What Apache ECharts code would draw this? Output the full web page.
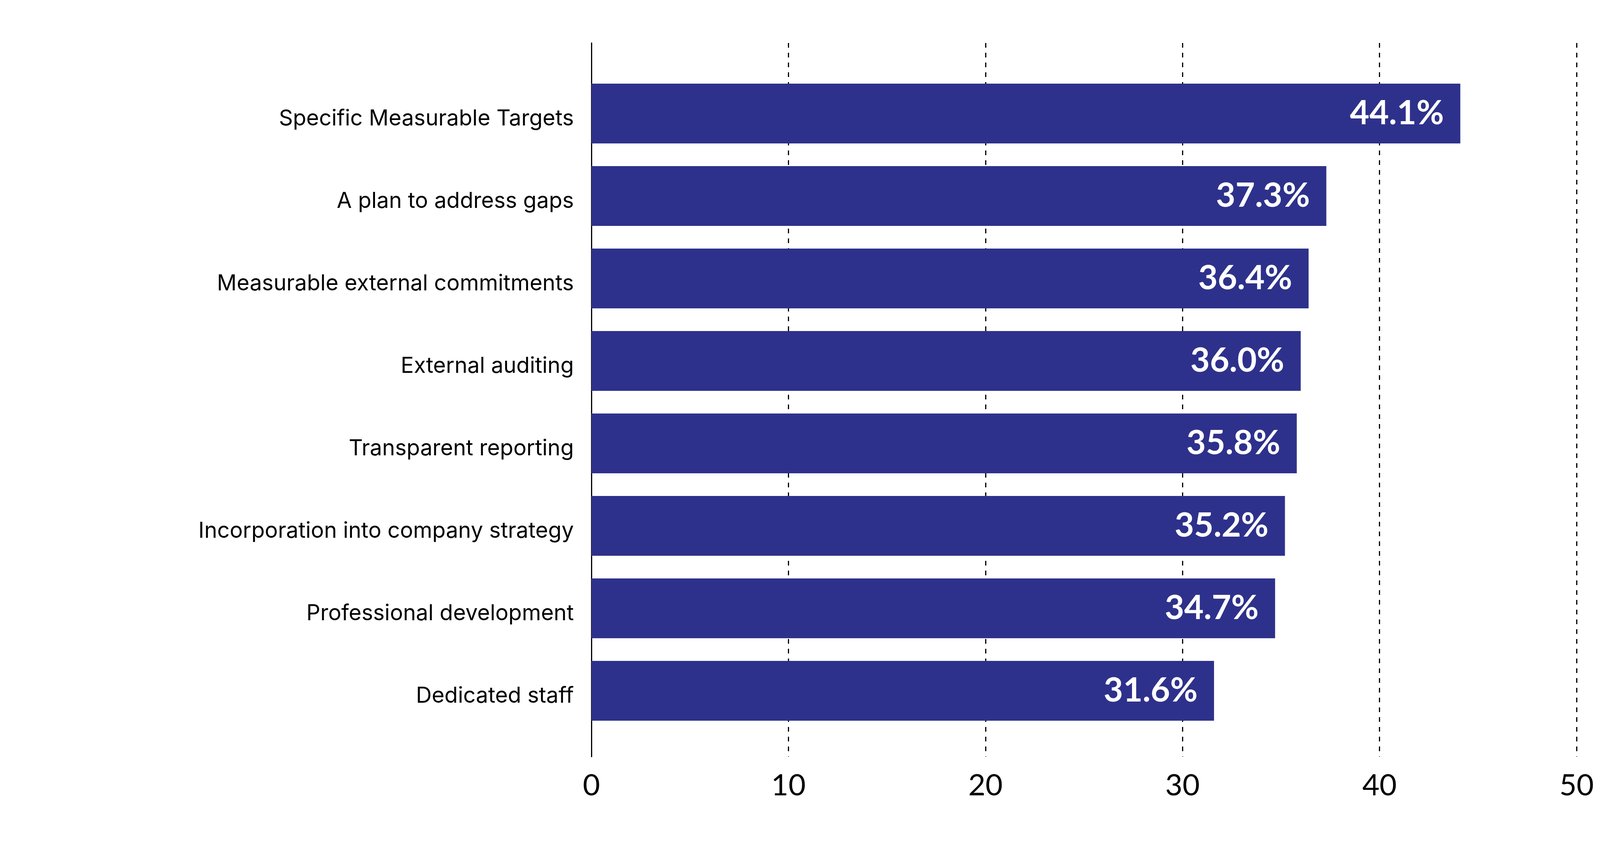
<!DOCTYPE html>
<html>
<head>
<meta charset="utf-8">
<script src="https://cdn.jsdelivr.net/npm/echarts@6/dist/echarts.min.js"></script>
<style>
html,body{margin:0;padding:0;background:#fff;}
#c{width:4167px;height:2203px;}
</style>
</head>
<body>
<div id="c"></div>
<script>
const categories = [
  "Specific Measurable Targets",
  "A plan to address gaps",
  "Measurable external commitments",
  "External auditing",
  "Transparent reporting",
  "Incorporation into company strategy",
  "Professional development",
  "Dedicated staff"
];
const values = [44.1, 37.3, 36.4, 36.0, 35.8, 35.2, 34.7, 31.6];
const xTicks = [0, 10, 20, 30, 40, 50];

const FONT = 'Lato';
const chart = echarts.init(document.getElementById('c'), null, {renderer: 'canvas'});
chart.setOption({
  backgroundColor: '#ffffff',
  animation: false,
  grid: [
    {left: 1514, right: 131, top: 110, bottom: 267, containLabel: false},
    {left: 1514, right: 131, top: 185, bottom: 330, containLabel: false}
  ],
  xAxis: [
    {
      gridIndex: 0, type: 'value', min: xTicks[0], max: xTicks[xTicks.length - 1], interval: 10,
      axisLine: {show: false}, axisTick: {show: false},
      axisLabel: {show: true, fontFamily: FONT, fontSize: 76, color: '#000', margin: 36},
      splitLine: {show: true, lineStyle: {color: '#000', width: 3, type: [12, 13]}}
    },
    {
      gridIndex: 1, type: 'value', min: xTicks[0], max: xTicks[xTicks.length - 1], interval: 10,
      show: false, splitLine: {show: false}
    }
  ],
  yAxis: [
    {
      gridIndex: 0, type: 'value', min: 0, max: 1,
      axisLine: {show: true, onZero: false, lineStyle: {color: '#000', width: 3}},
      axisTick: {show: false}, axisLabel: {show: false}, splitLine: {show: false}
    },
    {
      gridIndex: 1, type: 'category', data: categories, inverse: true,
      axisLine: {show: false}, axisTick: {show: false}, splitLine: {show: false},
      axisLabel: {fontFamily: 'Inter', fontSize: 56, color: '#000', margin: 45,
                  verticalAlign: 'top', lineHeight: 28}
    }
  ],
  series: [{
    type: 'bar',
    xAxisIndex: 1, yAxisIndex: 1,
    data: values,
    barCategoryGap: '27.5%',
    itemStyle: {color: '#2E318B'},
    label: {
      show: true, position: 'insideRight', distance: 42,
      color: '#fff', fontFamily: FONT, fontWeight: 'bold', fontSize: 86,
      formatter: p => p.value.toFixed(1) + '%'
    }
  }]
});
</script>
</body>
</html>
